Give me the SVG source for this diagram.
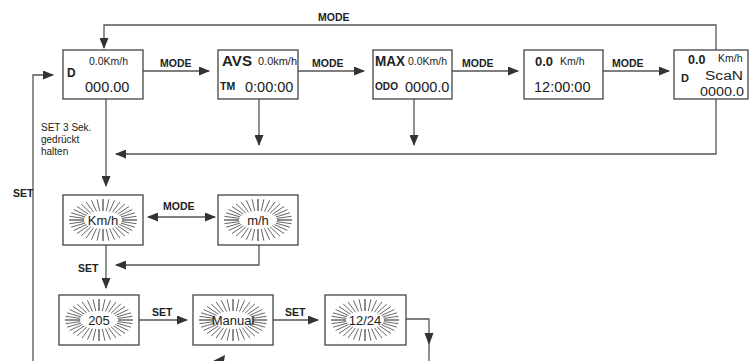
<svg xmlns="http://www.w3.org/2000/svg" xmlns:xlink="http://www.w3.org/1999/xlink" width="750" height="361" viewBox="0 0 750 361">
<style>
.box{fill:#fff;stroke:#444;stroke-width:1.3}
.ln{fill:none;stroke:#555;stroke-width:1.3}
.ray{fill:none;stroke:#666;stroke-width:1}
.t{font-family:"Liberation Sans",Arial,sans-serif;fill:#222}
.b{font-weight:bold}
.s{font-size:10.5px}
.m{font-size:14.5px}
.lbl{font-family:"Liberation Sans",Arial,sans-serif;font-weight:bold;font-size:10.5px;fill:#222}
.c{text-anchor:middle}
.ah{fill:#333}
</style>
<defs>
<marker id="arr" markerUnits="userSpaceOnUse" markerWidth="11" markerHeight="9" refX="10" refY="4.5" orient="auto-start-reverse" viewBox="0 0 11 9">
<path d="M0,0 L11,4.5 L0,9 z" fill="#333"/>
</marker>
<path id="q" d="M19,0 L34,0 M18.7,1.6 L33.5,3.7 M17.9,3.1 L31.9,7.2 M16.5,4.5 L29.4,10.5 M14.6,5.8 L26,13.5 M12.2,6.9 L21.9,16.1 M9.5,7.8 L17,18.2 M6.5,8.5 L11.6,19.7 M3.3,8.9 L5.9,20.7 M0,9 L0,21"/>
<g id="sun" class="ray">
<use xlink:href="#q"/>
<use xlink:href="#q" transform="scale(-1,1)"/>
<use xlink:href="#q" transform="scale(1,-1)"/>
<use xlink:href="#q" transform="scale(-1,-1)"/>
</g>
</defs>
<rect width="750" height="361" fill="#fff"/>

<g id="connectors">
<path class="ln" d="M716,50 V25 H104 V48" marker-end="url(#arr)"/>
<path class="ln" d="M143,71 H209" marker-end="url(#arr)"/>
<path class="ln" d="M298,71 H364" marker-end="url(#arr)"/>
<path class="ln" d="M452,71 H518" marker-end="url(#arr)"/>
<path class="ln" d="M603,71 H669" marker-end="url(#arr)"/>
<path class="ln" d="M33,361 V75 H53" marker-end="url(#arr)"/>
<path class="ln" d="M106,99 V186" marker-end="url(#arr)"/>
<path class="ln" d="M259,99 V145" marker-end="url(#arr)"/>
<path class="ln" d="M414,99 V145" marker-end="url(#arr)"/>
<path class="ln" d="M716,99 V154 H116" marker-end="url(#arr)"/>
<path class="ln" d="M148,217 H215" marker-start="url(#arr)" marker-end="url(#arr)"/>
<path class="ln" d="M106,245 V288" marker-end="url(#arr)"/>
<path class="ln" d="M259,245 V265 H116" marker-end="url(#arr)"/>
<path class="ln" d="M139,320 H187" marker-end="url(#arr)"/>
<path class="ln" d="M273,320 H318" marker-end="url(#arr)"/>
<path class="ln" d="M406,319 H429 V361"/>
<path class="ah" d="M424.5,333 L433.5,333 L429,345 z"/>
<path class="ah" d="M213,361 L225,355 L224,361 z"/>
<text class="lbl" x="318" y="21">MODE</text>
<text class="lbl" x="160" y="67">MODE</text>
<text class="lbl" x="312" y="67">MODE</text>
<text class="lbl" x="462" y="67">MODE</text>
<text class="lbl" x="612" y="67">MODE</text>
<text class="lbl" x="163" y="210">MODE</text>
<text class="lbl" x="13" y="197">SET</text>
<text class="lbl" x="78" y="272">SET</text>
<text class="lbl" x="152" y="316">SET</text>
<text class="lbl" x="285" y="316">SET</text>
<text class="t" font-size="10" x="41" y="131">SET 3 Sek.</text>
<text class="t" font-size="10" x="41" y="143">gedrückt</text>
<text class="t" font-size="10" x="41" y="155">halten</text>
</g>

<g id="box-d">
<rect class="box" x="63" y="50" width="80" height="49"/>
<text class="t b" font-size="12" x="67" y="77">D</text>
<text class="t s" x="89" y="65">0.0Km/h</text>
<text class="t m" x="85" y="92">000.00</text>
</g>
<g id="box-avs">
<rect class="box" x="218" y="50" width="80" height="49"/>
<text class="t b" font-size="14" x="222" y="66" textLength="30" lengthAdjust="spacingAndGlyphs">AVS</text>
<text class="t" font-size="10" x="258" y="65" textLength="39" lengthAdjust="spacingAndGlyphs">0.0km/h</text>
<text class="t b" font-size="10.5" x="220" y="90">TM</text>
<text class="t m" x="245" y="92">0:00:00</text>
</g>
<g id="box-max">
<rect class="box" x="373" y="50" width="79" height="49"/>
<text class="t b" font-size="14" x="375" y="66" textLength="30" lengthAdjust="spacingAndGlyphs">MAX</text>
<text class="t" font-size="10" x="408" y="65" textLength="39" lengthAdjust="spacingAndGlyphs">0.0Km/h</text>
<text class="t b" font-size="10" x="375" y="90" textLength="23" lengthAdjust="spacingAndGlyphs">ODO</text>
<text class="t m" x="405" y="92">0000.0</text>
</g>
<g id="box-clock">
<rect class="box" x="524" y="50" width="79" height="49"/>
<text class="t b" font-size="13" x="535" y="66">0.0</text>
<text class="t s" x="560" y="65">Km/h</text>
<text class="t m" x="534" y="92">12:00:00</text>
</g>
<g id="box-scan">
<rect class="box" x="674" y="50" width="74" height="49"/>
<text class="t b" font-size="12.5" x="688" y="64">0.0</text>
<text class="t s" x="718" y="62">Km/h</text>
<text class="t b" font-size="11" x="681" y="82">D</text>
<text class="t" font-size="12.5" x="705" y="80" textLength="38" lengthAdjust="spacingAndGlyphs">ScaN</text>
<text class="t" font-size="13" x="700" y="95.5" textLength="44" lengthAdjust="spacingAndGlyphs">0000.0</text>
</g>

<g id="box-kmh">
<rect class="box" x="63" y="195" width="80" height="50"/>
<use xlink:href="#sun" transform="translate(103,220)"/>
<text class="t c" font-size="13" x="103" y="225">Km/h</text>
</g>
<g id="box-mh">
<rect class="box" x="218" y="195" width="80" height="50"/>
<use xlink:href="#sun" transform="translate(258,220)"/>
<text class="t c" font-size="13" x="258" y="225">m/h</text>
</g>
<g id="box-205">
<rect class="box" x="59" y="295" width="80" height="50"/>
<use xlink:href="#sun" transform="translate(99,320)"/>
<text class="t c" font-size="13" x="99" y="325">205</text>
</g>
<g id="box-manual">
<rect class="box" x="193" y="295" width="80" height="50"/>
<use xlink:href="#sun" transform="translate(233,320)"/>
<text class="t c" font-size="13" x="233" y="325">Manual</text>
</g>
<g id="box-1224">
<rect class="box" x="325" y="295" width="81" height="50"/>
<use xlink:href="#sun" transform="translate(365,320)"/>
<text class="t c" font-size="13" x="365" y="325">12/24</text>
</g>
</svg>
